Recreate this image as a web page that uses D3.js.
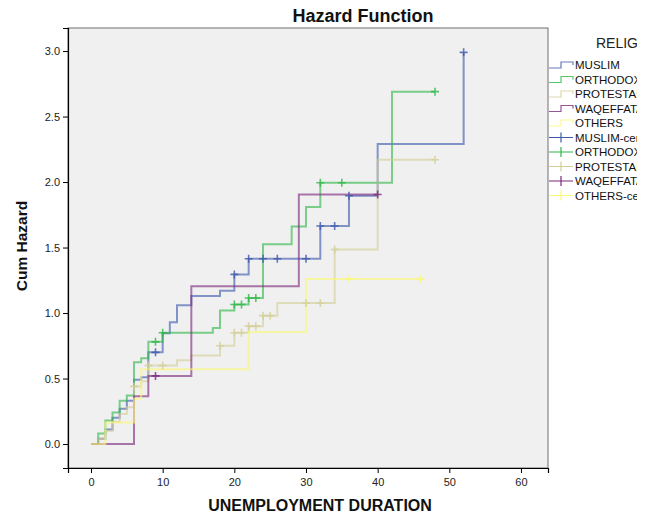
<!DOCTYPE html>
<html>
<head>
<meta charset="utf-8">
<script src="https://cdn.jsdelivr.net/npm/d3@7"></script>
<style>
  body { margin: 0; background: #fff; }
  svg { display: block; font-family: "Liberation Sans", Arial, sans-serif; }
</style>
</head>
<body>
<svg id="chart" width="652" height="520"></svg>
<script>
// Cumulative hazard step functions by religion group
const groups = ["MUSLIM", "ORTHODOX", "PROTESTANT", "WAQEFFATA", "OTHERS"];
const colors = ["#3e58ac", "#2eb848", "#d3ce97", "#7c287d", "#fbf873"];

// event times and cumulative hazard after each event
const muslimTimes = [0, 1, 2, 3, 4, 5, 6, 7, 8, 10, 11, 12, 14, 18, 20, 22, 32, 36, 40, 52];
const muslimHazard = [0, 0.04, 0.11, 0.2, 0.27, 0.33, 0.49, 0.51, 0.70, 0.845, 0.93, 1.06, 1.13, 1.17, 1.295, 1.415, 1.665, 1.895, 2.29, 2.99];
const muslimEnd = 52;
const muslimCensored = [9, 20, 22, 24, 26, 30, 32, 34, 36, 52];

const orthodoxTimes = [0, 1, 2, 3, 4, 5, 6, 7, 8, 10, 17, 18, 20, 22, 24, 28, 30, 32, 42];
const orthodoxHazard = [0, 0.08, 0.18, 0.24, 0.33, 0.37, 0.625, 0.655, 0.78, 0.85, 0.885, 1.02, 1.065, 1.115, 1.525, 1.66, 1.81, 1.995, 2.69];
const orthodoxEnd = 48;
const orthodoxCensored = [9, 10, 20, 21, 22, 23, 32, 35, 48];

const protestantTimes = [0, 1, 2, 3, 4, 5, 6, 7, 8, 12, 14, 18, 20, 22, 24, 26, 34, 40];
const protestantHazard = [0, 0.04, 0.1, 0.17, 0.23, 0.28, 0.44, 0.48, 0.6, 0.64, 0.675, 0.75, 0.85, 0.9, 0.98, 1.077, 1.485, 2.17];
const protestantEnd = 48;
const protestantCensored = [6, 8, 10, 18, 20, 21, 22, 23, 24, 25, 30, 32, 34, 48];

const waqeffataTimes = [0, 6, 8, 14, 29];
const waqeffataHazard = [0, 0.365, 0.52, 1.205, 1.905];
const waqeffataEnd = 40;
const waqeffataCensored = [9, 40];

const othersTimes = [0, 2, 6, 7, 22, 30];
const othersHazard = [0, 0.165, 0.345, 0.57, 0.855, 1.26];
const othersEnd = 46;
const othersCensored = [36, 46];

const xTicks = [0, 10, 20, 30, 40, 50, 60];
const yTicks = [0, 0.5, 1, 1.5, 2, 2.5, 3];

const series = [
  { t: muslimTimes, h: muslimHazard, end: muslimEnd, c: muslimCensored },
  { t: orthodoxTimes, h: orthodoxHazard, end: orthodoxEnd, c: orthodoxCensored },
  { t: protestantTimes, h: protestantHazard, end: protestantEnd, c: protestantCensored },
  { t: waqeffataTimes, h: waqeffataHazard, end: waqeffataEnd, c: waqeffataCensored },
  { t: othersTimes, h: othersHazard, end: othersEnd, c: othersCensored }
].map((s, i) => ({ ...s, name: groups[i], color: colors[i] }));

const svg = d3.select("#chart");
const frame = { left: 68, right: 548, top: 28, bottom: 468 };

const x = d3.scaleLinear().domain([-3.21, 63.77]).range([frame.left, frame.right]);
const y = d3.scaleLinear().domain([-0.183, 3.176]).range([frame.bottom, frame.top]);

// plot area
svg.append("rect")
  .attr("x", frame.left).attr("y", frame.top)
  .attr("width", frame.right - frame.left).attr("height", frame.bottom - frame.top)
  .attr("fill", "#f0f0f0").attr("stroke", "#6e6e6e").attr("stroke-width", 1);

// axes
const xAxis = d3.axisBottom(x).tickValues(xTicks).tickSize(5).tickFormat(d3.format("d"));
const gx = svg.append("g").attr("transform", `translate(0,${frame.bottom})`).call(xAxis);
const yAxis = d3.axisLeft(y).tickValues(yTicks).tickSize(5).tickFormat(d3.format(".1f"));
const gy = svg.append("g").attr("transform", `translate(${frame.left},0)`).call(yAxis);
[gx, gy].forEach(g => {
  g.select(".domain").attr("stroke", "#000").attr("stroke-width", 1.2);
  g.selectAll(".tick line").attr("stroke", "#000");
  g.selectAll(".tick text").attr("fill", "#222").style("font-size", "11px")
    .style("font-family", "'Liberation Sans', Arial, sans-serif");
});
gx.selectAll(".tick text").attr("dy", "0.9em");

// step value at time t (includes a jump occurring at t)
function stepAt(s, t) {
  let v = 0;
  for (let i = 0; i < s.t.length; i++) if (s.t[i] <= t) v = s.h[i];
  return v;
}

const line = d3.line().x(d => x(d[0])).y(d => y(d[1])).curve(d3.curveStepAfter);
const plot = svg.append("g");

series.forEach(s => {
  const pts = s.t.map((t, i) => [t, s.h[i]]);
  const last = pts[pts.length - 1];
  if (s.end > last[0]) pts.push([s.end, last[1]]);
  plot.append("path")
    .attr("d", line(pts))
    .attr("fill", "none")
    .attr("stroke", s.color)
    .attr("stroke-opacity", 0.62)
    .attr("stroke-width", 2);
});

// censoring marks
series.forEach(s => {
  s.c.forEach(t => {
    const cx = x(t), cy = y(stepAt(s, t));
    plot.append("path")
      .attr("d", `M${cx - 4},${cy}H${cx + 4}M${cx},${cy - 4}V${cy + 4}`)
      .attr("stroke", s.color)
      .attr("stroke-opacity", 0.8)
      .attr("stroke-width", 1.6)
      .attr("fill", "none");
  });
});

// titles
svg.append("text").attr("x", 363).attr("y", 22).attr("text-anchor", "middle")
  .style("font-size", "18px").style("font-weight", "bold").attr("fill", "#111")
  .text("Hazard Function");
svg.append("text").attr("x", 320).attr("y", 511).attr("text-anchor", "middle")
  .style("font-size", "16px").style("font-weight", "bold").attr("fill", "#111")
  .text("UNEMPLOYMENT DURATION");
svg.append("text").attr("transform", "translate(27,246) rotate(-90)").attr("text-anchor", "middle")
  .style("font-size", "15.5px").style("font-weight", "bold").attr("fill", "#111")
  .text("Cum Hazard");

// legend, cut off at its right edge
svg.append("clipPath").attr("id", "legclip")
  .append("rect").attr("x", 549).attr("y", 0).attr("width", 88).attr("height", 520);
const leg = svg.append("g").attr("clip-path", "url(#legclip)");
leg.append("text").attr("x", 596).attr("y", 48)
  .style("font-size", "14px").attr("fill", "#222").text("RELIGION");

const legendLabels = groups.concat(groups.map(g => g + "-censored"));
legendLabels.forEach((label, i) => {
  const yy = 65 + i * 14.5;
  const col = colors[i % 5];
  if (i < 5) {
    leg.append("path")
      .attr("d", `M549,${yy + 3}H561V${yy - 3}H573V${yy}`)
      .attr("fill", "none").attr("stroke", col).attr("stroke-opacity", 0.8).attr("stroke-width", 1.2);
  } else {
    leg.append("path")
      .attr("d", `M549,${yy}H573M561,${yy - 5}V${yy + 5}`)
      .attr("fill", "none").attr("stroke", col).attr("stroke-width", 1.2);
  }
  leg.append("text").attr("x", 575).attr("y", yy + 4)
    .style("font-size", "11.5px").attr("fill", "#111").text(label);
});
</script>
</body>
</html>
